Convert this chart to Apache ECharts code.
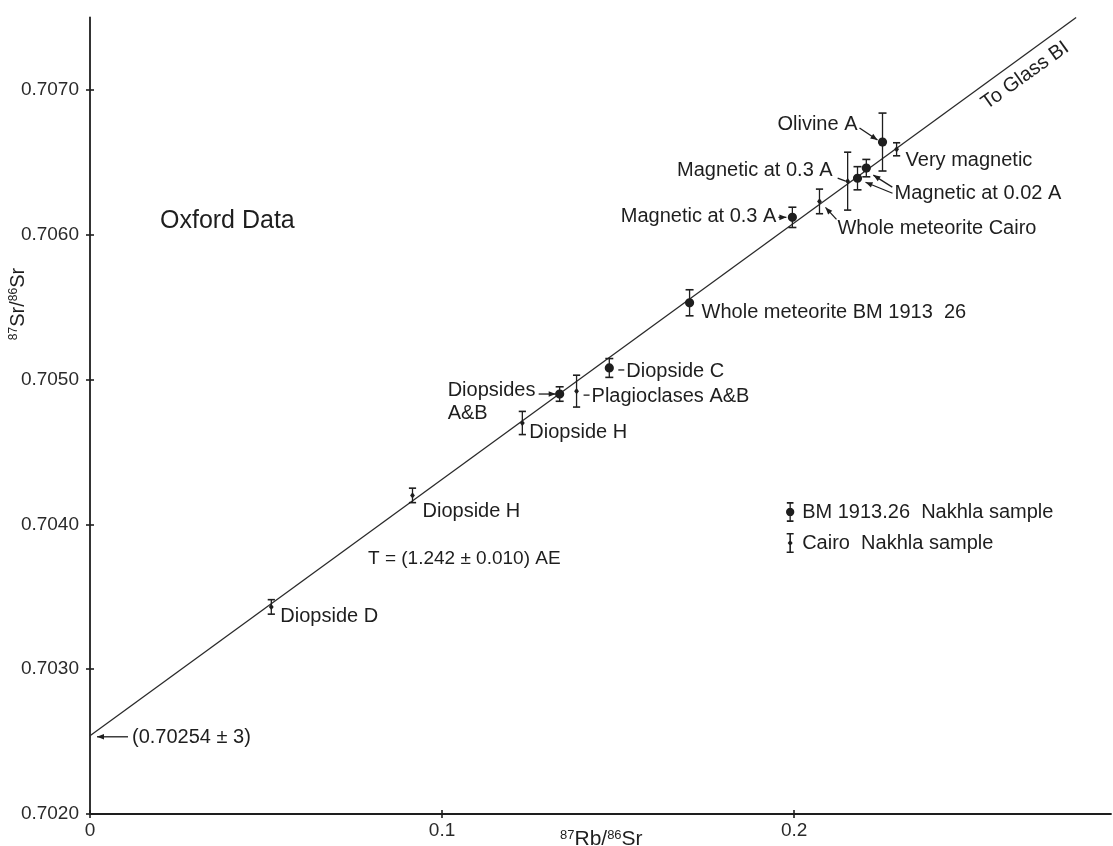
<!DOCTYPE html>
<html><head><meta charset="utf-8">
<script src="https://cdn.jsdelivr.net/npm/echarts@6/dist/echarts.min.js"></script>
<style>html,body{margin:0;padding:0;background:#fff}#c{width:1113px;height:846px}</style>
</head><body><div id="c"></div>
<script>
// ---------- data ----------
const xTicks = [0, 0.1, 0.2];
const yTicks = [0.7020, 0.7030, 0.7040, 0.7050, 0.7060, 0.7070];

// BM 1913.26 Nakhla sample (filled circles)
const bmNames = ['Diopsides\nA&B', 'Diopside C', 'Whole meteorite BM 1913  26', 'Magnetic at 0.3 A', 'Magnetic at 0.02 A', 'Magnetic at 0.02 A', 'Olivine A'];
const bmX   = [0.1334, 0.1475, 0.1703, 0.1995, 0.2180, 0.2205, 0.2251];
const bmY   = [0.70490, 0.70508, 0.70553, 0.70612, 0.70639, 0.70646, 0.70664];
const bmErr = [0.00005, 0.000065, 0.00009, 0.00007, 0.00008, 0.00006, 0.0002];

// Cairo Nakhla sample (I-bars)
const cairoNames = ['Diopside D', 'Diopside H', 'Diopside H', 'Plagioclases A&B', 'Whole meteorite Cairo', 'Magnetic at 0.3 A', 'Very magnetic'];
const cairoX   = [0.0515, 0.0916, 0.1228, 0.1382, 0.2072, 0.2152, 0.2291];
const cairoY   = [0.70343, 0.70420, 0.70470, 0.70492, 0.70623, 0.70637, 0.70659];
const cairoErr = [0.00005, 0.00005, 0.00008, 0.00011, 0.000085, 0.0002, 0.000045];

// isochron
const fitX = [0, 0.2801];
const fitY = [0.70254, 0.7075];
const fitNotes = ['(0.70254 \u00b1 3)', 'To Glass BI'];

// ---------- layout / style (pixel offsets from each point) ----------
const INK = '#1e1e1e';
const FONT = '"Liberation Sans", Arial, Helvetica, sans-serif';
const bmLayout = [
  {tx: -112, ty: -15, align: 'left', va: 'top', arrow: [-21, 0, -4, 0], head: true},
  {tx: 17, ty: 4, arrow: [9, 2, 15, 2]},
  {tx: 12, ty: 10},
  {tx: -16, ty: -1, align: 'right', arrow: [-14, 0, -6, 0], head: true},
  {tx: 37, ty: 15, arrow: [35, 15, 8, 4], head: true},
  {hide: true, arrow: [26, 19, 7, 7], head: true},
  {tx: -25, ty: -18, align: 'right', arrow: [-23, -14, -5, -2], head: true}
];
const cairoLayout = [
  {tx: 9, ty: 10},
  {tx: 10, ty: 16},
  {tx: 7, ty: 9},
  {tx: 15, ty: 5, arrow: [7, 4, 13, 4]},
  {tx: 18, ty: 27, arrow: [17, 18, 6, 6], head: true},
  {tx: -15, ty: -11, align: 'right', arrow: [-10, -3, -2, 0]},
  {tx: 9, ty: 11}
];
const fitLayout = [
  {tx: 42, ty: 2, arrow: [38, 1, 7, 1], head: true},
  {tx: -51, ty: 58, align: 'center', rot: 0.62}
];

function arrowParts(p, L) {
  const out = [];
  if (!L || !L.arrow) return out;
  const a = L.arrow;
  const x1 = p[0] + a[0], y1 = p[1] + a[1], x2 = p[0] + a[2], y2 = p[1] + a[3];
  out.push({type: 'line', shape: {x1, y1, x2, y2}, style: {stroke: INK, lineWidth: 1.3}});
  if (L.head) {
    let dx = x2 - x1, dy = y2 - y1; const len = Math.hypot(dx, dy) || 1; dx /= len; dy /= len;
    const bx = x2 - dx * 7, by = y2 - dy * 7, nx = -dy * 2.8, ny = dx * 2.8;
    out.push({type: 'polygon', shape: {points: [[x2, y2], [bx + nx, by + ny], [bx - nx, by - ny]]}, style: {fill: INK}});
  }
  return out;
}
function textPart(p, L, text) {
  if (!L || L.hide || !text) return [];
  return [{type: 'text', x: p[0] + L.tx, y: p[1] + L.ty, rotation: L.rot || 0,
    style: {text, fill: INK, font: '20px ' + FONT, align: L.align || 'left', verticalAlign: L.va || 'middle', lineHeight: 23}}];
}
function makeRender(kind, layout, names) {
  return function (params, api) {
    const x = api.value(0), y = api.value(1), e = api.value(2), i = api.value(3);
    const p = api.coord([x, y]);
    const t = api.coord([x, y + e]), b = api.coord([x, y - e]);
    const cap = kind === 'bm' ? 4 : 3.6;
    const ch = [
      {type: 'line', shape: {x1: p[0], y1: t[1], x2: p[0], y2: b[1]}, style: {stroke: INK, lineWidth: 1.3}},
      {type: 'line', shape: {x1: p[0] - cap, y1: t[1], x2: p[0] + cap, y2: t[1]}, style: {stroke: INK, lineWidth: 1.6}},
      {type: 'line', shape: {x1: p[0] - cap, y1: b[1], x2: p[0] + cap, y2: b[1]}, style: {stroke: INK, lineWidth: 1.6}}
    ];
    if (kind === 'bm') ch.push({type: 'circle', shape: {cx: p[0], cy: p[1], r: 4.6}, style: {fill: INK}});
    else ch.push({type: 'polygon', shape: {points: [[p[0], p[1] - 3.2], [p[0] + 2.4, p[1]], [p[0], p[1] + 3.2], [p[0] - 2.4, p[1]]]}, style: {fill: INK}});
    return {type: 'group', children: ch.concat(arrowParts(p, layout[i]), textPart(p, layout[i], names[i]))};
  };
}
function fitNoteRender(params, api) {
  const i = api.value(2);
  const p = api.coord([api.value(0), api.value(1)]);
  return {type: 'group', children: arrowParts(p, fitLayout[i]).concat(textPart(p, fitLayout[i], fitNotes[i]))};
}

const chart = echarts.init(document.getElementById('c'), null, {renderer: 'canvas'});
const axisLineStyle = {color: INK, width: 1.8};
chart.setOption({
  animation: false,
  backgroundColor: '#fff',
  textStyle: {fontFamily: FONT},
  grid: {left: 90, right: 2, top: 17.5, bottom: 32, containLabel: false, outerBoundsMode: 'none'},
  legend: {
    orient: 'vertical', left: 786, top: 502, padding: 0, itemWidth: 14, itemHeight: 20, itemGap: 11,
    textStyle: {fontSize: 20, color: INK, fontFamily: FONT},
    data: [
      {name: 'BM 1913.26  Nakhla sample', icon: 'path://M1,0H9V2H1ZM4.2,2H5.8V22H4.2ZM1,22H9V24H1ZM0,12A5,5 0 1,1 10,12A5,5 0 1,1 0,12Z', itemStyle: {color: INK}},
      {name: 'Cairo  Nakhla sample', icon: 'path://M0.5,0H7.5V1.6H0.5ZM3.2,1.6H4.8V18.4H3.2ZM0.5,18.4H7.5V20H0.5ZM4,7L6.5,10L4,13L1.5,10Z', itemStyle: {color: INK}}
    ]
  },
  xAxis: [{
    type: 'value', min: 0, max: 0.29,
    axisLine: {lineStyle: axisLineStyle},
    axisTick: {show: true, length: 4, customValues: xTicks, lineStyle: {color: INK, width: 1.6}},
    axisLabel: {customValues: xTicks, margin: 7, fontSize: 19, color: '#2a2a2a', fontFamily: FONT, formatter: v => (v === 0 ? '0' : String(+v.toFixed(1)))},
    splitLine: {show: false}
  }, {
    type: 'value', min: 0, max: 0.29, position: 'bottom',
    axisLine: {show: false}, axisLabel: {show: false}, splitLine: {show: false},
    axisTick: {show: true, inside: true, length: 4, customValues: xTicks, lineStyle: {color: INK, width: 1.6}}
  }],
  yAxis: [{
    type: 'value', min: 0.702, max: 0.7075,
    axisLine: {show: true, lineStyle: axisLineStyle},
    axisTick: {show: true, length: 4, customValues: yTicks, lineStyle: {color: INK, width: 1.6}},
    axisLabel: {customValues: yTicks, margin: 11, fontSize: 19, color: '#2a2a2a', fontFamily: FONT, formatter: v => v.toFixed(4)},
    splitLine: {show: false}
  }, {
    type: 'value', min: 0.702, max: 0.7075, position: 'left',
    axisLine: {show: false}, axisLabel: {show: false}, splitLine: {show: false},
    axisTick: {show: true, inside: true, length: 4, customValues: yTicks, lineStyle: {color: INK, width: 1.6}}
  }],
  graphic: [
    {type: 'text', left: 160, top: 209, style: {text: 'Oxford Data', font: '25px ' + FONT, fill: INK}},
    {type: 'text', left: 368, top: 549, style: {text: 'T = (1.242 \u00b1 0.010) AE', font: '19px ' + FONT, fill: INK}},
    {type: 'text', x: 18, y: 304, rotation: Math.PI / 2,
      style: {text: '{s|87}Sr/{s|86}Sr', font: '20px ' + FONT, fill: INK, align: 'center', verticalAlign: 'middle',
        rich: {s: {fontSize: 12, verticalAlign: 'top', fill: INK, fontFamily: FONT}}}},
    {type: 'text', x: 560, y: 829,
      style: {text: '{s|87}Rb/{s|86}Sr', font: '21px ' + FONT, fill: INK, align: 'left', verticalAlign: 'top',
        rich: {s: {fontSize: 13, verticalAlign: 'top', fill: INK, fontFamily: FONT}}}}
  ],
  series: [
    {type: 'line', name: 'isochron', data: fitX.map((x, i) => [x, fitY[i]]), showSymbol: false, silent: true,
      lineStyle: {color: '#2a2a2a', width: 1.3}, z: 1},
    {type: 'custom', name: 'isochron notes', data: fitX.map((x, i) => [x, fitY[i], i]), renderItem: fitNoteRender, silent: true, clip: false, z: 3},
    {type: 'custom', name: 'BM 1913.26  Nakhla sample', data: bmX.map((x, i) => [x, bmY[i], bmErr[i], i]),
      renderItem: makeRender('bm', bmLayout, bmNames), itemStyle: {color: INK}, clip: false, z: 4},
    {type: 'custom', name: 'Cairo  Nakhla sample', data: cairoX.map((x, i) => [x, cairoY[i], cairoErr[i], i]),
      renderItem: makeRender('cairo', cairoLayout, cairoNames), itemStyle: {color: INK}, clip: false, z: 4}
  ]
});
</script>
</body></html>
